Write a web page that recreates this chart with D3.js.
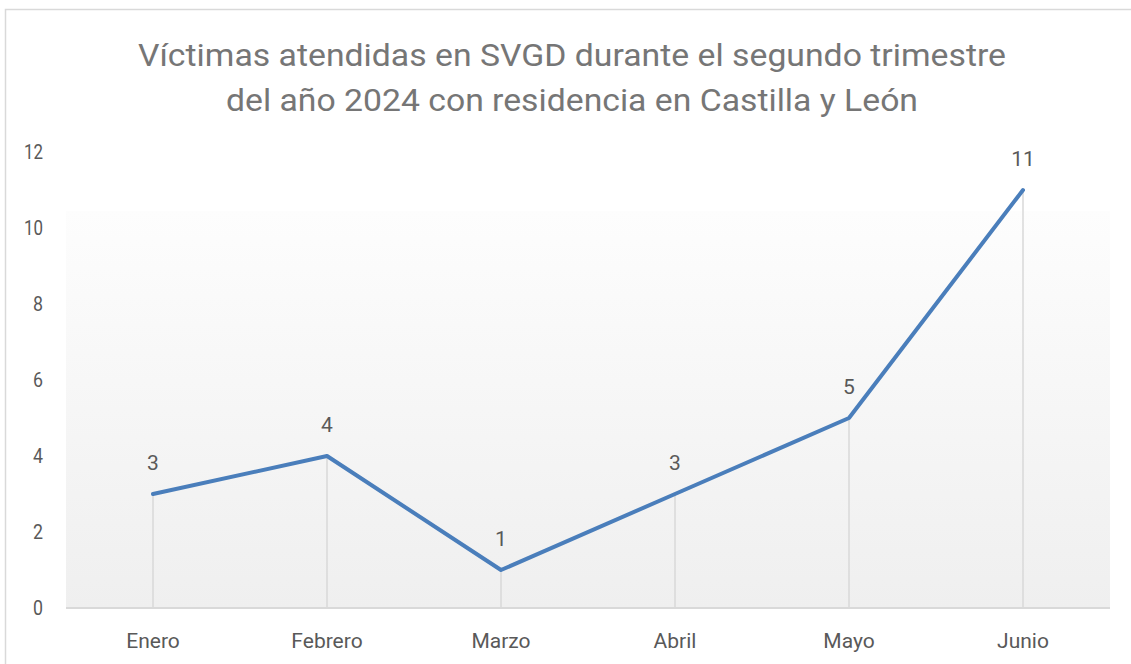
<!DOCTYPE html>
<html>
<head>
<meta charset="utf-8">
<script src="https://cdn.jsdelivr.net/npm/d3@7"></script>
<style>
  html, body { margin: 0; padding: 0; background: #fff; }
  svg { display: block; }
</style>
</head>
<body>
<svg id="chart"></svg>
<script>
// Data
const months = ['Enero', 'Febrero', 'Marzo', 'Abril', 'Mayo', 'Junio'];
const victims = [3, 4, 1, 3, 5, 11];
const yTicks = [0, 2, 4, 6, 8, 10, 12];
const titleLines = [
  'Víctimas atendidas en SVGD durante el segundo trimestre',
  'del año 2024 con residencia en Castilla y León'
];

const width = 1131, height = 664;
const margin = { left: 66, right: 21, top: 152, bottom: 56 };
const font = 'Roboto, "Open Sans", sans-serif';

const svg = d3.select('#chart').attr('width', width).attr('height', height);

// outer chart border (only top/left visible in the reference)
svg.append('rect')
  .attr('x', 5.5).attr('y', 9.5)
  .attr('width', width + 10).attr('height', height + 10)
  .attr('fill', '#fff').attr('stroke', '#d9d9d9').attr('stroke-width', 1.5);

const x = d3.scaleBand().domain(months).range([margin.left, width - margin.right]);
const y = d3.scaleLinear().domain([0, 12]).range([height - margin.bottom, margin.top]);
const cx = d => x(d) + x.bandwidth() / 2;

// plot area gradient
const grad = svg.append('defs').append('linearGradient')
  .attr('id', 'plotGrad').attr('x1', 0).attr('y1', 0).attr('x2', 0).attr('y2', 1);
grad.append('stop').attr('offset', '0%').attr('stop-color', '#fdfdfd');
grad.append('stop').attr('offset', '100%').attr('stop-color', '#efefef');

svg.append('rect')
  .attr('x', margin.left).attr('y', y(10.45))
  .attr('width', width - margin.right - margin.left)
  .attr('height', y(0) - y(10.45))
  .attr('fill', 'url(#plotGrad)');

// title
svg.append('g').selectAll('text')
  .data(titleLines)
  .join('text')
  .attr('x', 572)
  .attr('y', (d, i) => 66 + i * 45)
  .attr('text-anchor', 'middle')
  .attr('font-family', font)
  .attr('font-size', 32)
  .attr('fill', '#767676')
  .attr('textLength', (d, i) => i === 0 ? 868 : 692)
  .attr('lengthAdjust', 'spacingAndGlyphs')
  .text(d => d);

// drop lines
svg.append('g').selectAll('line')
  .data(months)
  .join('line')
  .attr('x1', d => cx(d)).attr('x2', d => cx(d))
  .attr('y1', (d, i) => y(victims[i])).attr('y2', y(0))
  .attr('stroke', '#d9d9d9').attr('stroke-width', 1.5);

// x axis line
svg.append('line')
  .attr('x1', margin.left).attr('x2', width - margin.right)
  .attr('y1', y(0)).attr('y2', y(0))
  .attr('stroke', '#d9d9d9').attr('stroke-width', 2);

// y tick labels
svg.append('g').selectAll('text')
  .data(yTicks)
  .join('text')
  .attr('x', 43)
  .attr('y', d => y(d))
  .attr('dy', '0.35em')
  .attr('text-anchor', 'end')
  .attr('font-family', font)
  .attr('font-size', 21)
  .attr('fill', '#595959')
  .attr('textLength', d => d >= 10 ? 19 : 10)
  .attr('lengthAdjust', 'spacingAndGlyphs')
  .text(d => d);

// x labels
svg.append('g').selectAll('text')
  .data(months)
  .join('text')
  .attr('x', d => cx(d))
  .attr('y', 641)
  .attr('dy', '0.35em')
  .attr('text-anchor', 'middle')
  .attr('font-family', font)
  .attr('font-size', 21)
  .attr('fill', '#595959')
  .text(d => d);

// line
const line = d3.line().x((d, i) => cx(months[i])).y(d => y(d));
svg.append('path')
  .datum(victims)
  .attr('d', line)
  .attr('fill', 'none')
  .attr('stroke', '#4a7ebb')
  .attr('stroke-width', 4)
  .attr('stroke-linejoin', 'round')
  .attr('stroke-linecap', 'round');

// data labels
svg.append('g').selectAll('text')
  .data(victims)
  .join('text')
  .attr('x', (d, i) => cx(months[i]))
  .attr('y', d => y(d) - 31)
  .attr('dy', '0.35em')
  .attr('text-anchor', 'middle')
  .attr('font-family', font)
  .attr('font-size', 21)
  .attr('fill', '#595959')
  .text(d => d);
</script>
</body>
</html>
